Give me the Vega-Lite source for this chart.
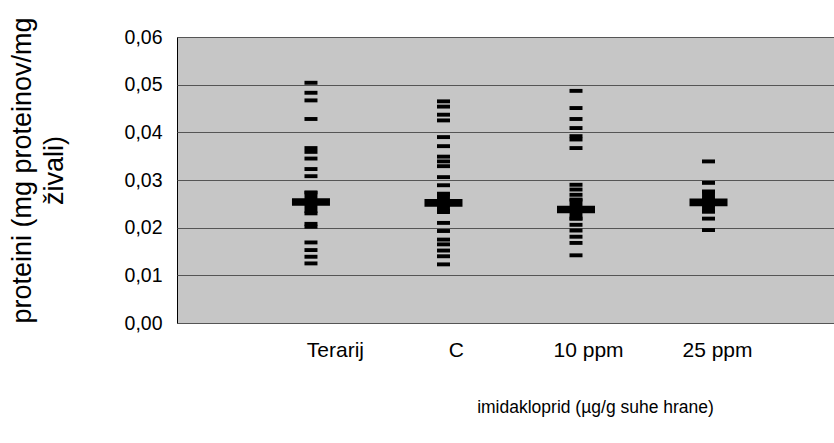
{
  "$schema": "https://vega.github.io/schema/vega-lite/v6.json",
  "width": 657,
  "height": 286,
  "autosize": {"type": "none"},
  "padding": {"left": 177, "top": 37, "right": 0, "bottom": 120},
  "background": "white",
  "config": {
    "font": "Liberation Sans",
    "view": {"fill": "#c6c6c6", "stroke": "#000000", "strokeWidth": 1}
  },
  "data": {
    "values": [
      {"group": "Terarij", "idx": 1, "kind": "point", "v": 0.0504},
      {"group": "Terarij", "idx": 1, "kind": "point", "v": 0.0483},
      {"group": "Terarij", "idx": 1, "kind": "point", "v": 0.0467},
      {"group": "Terarij", "idx": 1, "kind": "point", "v": 0.0428},
      {"group": "Terarij", "idx": 1, "kind": "point", "v": 0.0367},
      {"group": "Terarij", "idx": 1, "kind": "point", "v": 0.0359},
      {"group": "Terarij", "idx": 1, "kind": "point", "v": 0.0345},
      {"group": "Terarij", "idx": 1, "kind": "point", "v": 0.0323},
      {"group": "Terarij", "idx": 1, "kind": "point", "v": 0.0308},
      {"group": "Terarij", "idx": 1, "kind": "point", "v": 0.0274},
      {"group": "Terarij", "idx": 1, "kind": "point", "v": 0.0230},
      {"group": "Terarij", "idx": 1, "kind": "point", "v": 0.0208},
      {"group": "Terarij", "idx": 1, "kind": "point", "v": 0.0202},
      {"group": "Terarij", "idx": 1, "kind": "point", "v": 0.0169},
      {"group": "Terarij", "idx": 1, "kind": "point", "v": 0.0153},
      {"group": "Terarij", "idx": 1, "kind": "point", "v": 0.0139},
      {"group": "Terarij", "idx": 1, "kind": "point", "v": 0.0125},
      {"group": "Terarij", "idx": 1, "kind": "mean", "v": 0.0254},

      {"group": "C", "idx": 2, "kind": "point", "v": 0.0465},
      {"group": "C", "idx": 2, "kind": "point", "v": 0.0454},
      {"group": "C", "idx": 2, "kind": "point", "v": 0.0437},
      {"group": "C", "idx": 2, "kind": "point", "v": 0.0425},
      {"group": "C", "idx": 2, "kind": "point", "v": 0.0390},
      {"group": "C", "idx": 2, "kind": "point", "v": 0.0371},
      {"group": "C", "idx": 2, "kind": "point", "v": 0.0349},
      {"group": "C", "idx": 2, "kind": "point", "v": 0.0339},
      {"group": "C", "idx": 2, "kind": "point", "v": 0.0329},
      {"group": "C", "idx": 2, "kind": "point", "v": 0.0306},
      {"group": "C", "idx": 2, "kind": "point", "v": 0.0289},
      {"group": "C", "idx": 2, "kind": "point", "v": 0.0270},
      {"group": "C", "idx": 2, "kind": "point", "v": 0.0235},
      {"group": "C", "idx": 2, "kind": "point", "v": 0.0210},
      {"group": "C", "idx": 2, "kind": "point", "v": 0.0193},
      {"group": "C", "idx": 2, "kind": "point", "v": 0.0175},
      {"group": "C", "idx": 2, "kind": "point", "v": 0.0165},
      {"group": "C", "idx": 2, "kind": "point", "v": 0.0152},
      {"group": "C", "idx": 2, "kind": "point", "v": 0.0140},
      {"group": "C", "idx": 2, "kind": "point", "v": 0.0123},
      {"group": "C", "idx": 2, "kind": "mean", "v": 0.0252},

      {"group": "10 ppm", "idx": 3, "kind": "point", "v": 0.0487},
      {"group": "10 ppm", "idx": 3, "kind": "point", "v": 0.0451},
      {"group": "10 ppm", "idx": 3, "kind": "point", "v": 0.0428},
      {"group": "10 ppm", "idx": 3, "kind": "point", "v": 0.0409},
      {"group": "10 ppm", "idx": 3, "kind": "point", "v": 0.0392},
      {"group": "10 ppm", "idx": 3, "kind": "point", "v": 0.0385},
      {"group": "10 ppm", "idx": 3, "kind": "point", "v": 0.0367},
      {"group": "10 ppm", "idx": 3, "kind": "point", "v": 0.0290},
      {"group": "10 ppm", "idx": 3, "kind": "point", "v": 0.0280},
      {"group": "10 ppm", "idx": 3, "kind": "point", "v": 0.0269},
      {"group": "10 ppm", "idx": 3, "kind": "point", "v": 0.0259},
      {"group": "10 ppm", "idx": 3, "kind": "point", "v": 0.0219},
      {"group": "10 ppm", "idx": 3, "kind": "point", "v": 0.0206},
      {"group": "10 ppm", "idx": 3, "kind": "point", "v": 0.0194},
      {"group": "10 ppm", "idx": 3, "kind": "point", "v": 0.0181},
      {"group": "10 ppm", "idx": 3, "kind": "point", "v": 0.0168},
      {"group": "10 ppm", "idx": 3, "kind": "point", "v": 0.0142},
      {"group": "10 ppm", "idx": 3, "kind": "mean", "v": 0.0238},

      {"group": "25 ppm", "idx": 4, "kind": "point", "v": 0.0339},
      {"group": "25 ppm", "idx": 4, "kind": "point", "v": 0.0294},
      {"group": "25 ppm", "idx": 4, "kind": "point", "v": 0.0276},
      {"group": "25 ppm", "idx": 4, "kind": "point", "v": 0.0234},
      {"group": "25 ppm", "idx": 4, "kind": "point", "v": 0.0219},
      {"group": "25 ppm", "idx": 4, "kind": "point", "v": 0.0195},
      {"group": "25 ppm", "idx": 4, "kind": "mean", "v": 0.0253}
    ]
  },
  "encoding": {
    "x": {
      "field": "idx",
      "type": "quantitative",
      "scale": {"domain": [-0.011, 4.947], "nice": false, "zero": false},
      "axis": {
        "values": [1.181, 2.094, 3.091, 4.064],
        "labelExpr": "datum.value < 1.5 ? 'Terarij' : datum.value < 2.5 ? 'C' : datum.value < 3.5 ? '10 ppm' : '25 ppm'",
        "grid": false,
        "ticks": false,
        "domain": false,
        "labelFlush": false,
        "labelOverlap": false,
        "labelBound": false,
        "labelPadding": 16,
        "labelFontSize": 21,
        "labelColor": "#000000",
        "labelBaseline": "top",
        "title": "imidakloprid (µg/g suhe hrane)",
        "titleFontSize": 17.5,
        "titleFontWeight": "normal",
        "titleColor": "#000000",
        "titleX": 418,
        "titleY": 75,
        "titleAlign": "center",
        "titleBaseline": "top"
      }
    },
    "y": {
      "field": "v",
      "type": "quantitative",
      "scale": {"domain": [0, 0.06], "nice": false},
      "axis": {
        "values": [0, 0.01, 0.02, 0.03, 0.04, 0.05, 0.06],
        "labelExpr": "replace(format(datum.value, '.2f'), '.', ',')",
        "grid": true,
        "gridColor": "#555555",
        "gridWidth": 1,
        "ticks": false,
        "domain": false,
        "labelFlush": false,
        "labelPadding": 15,
        "labelFontSize": 19.5,
        "labelColor": "#000000",
        "title": ["proteini (mg proteinov/mg", "živali)"],
        "titleFontSize": 27,
        "titleFontWeight": "normal",
        "titleColor": "#000000",
        "titleLineHeight": 32,
        "titleAngle": -90,
        "titleAlign": "center",
        "titleBaseline": "top",
        "titleX": -168,
        "titleY": 133
      }
    }
  },
  "layer": [
    {
      "transform": [{"filter": "datum.kind == 'point'"}],
      "mark": {
        "type": "point",
        "shape": "M-1,-0.3H1V0.3H-1Z",
        "size": 169,
        "filled": true,
        "color": "#000000",
        "opacity": 1,
        "strokeWidth": 0
      }
    },
    {
      "transform": [{"filter": "datum.kind == 'mean'"}],
      "mark": {
        "type": "point",
        "shape": "M-1,-0.2H-0.34V-0.58H0.34V-0.2H1V0.2H0.34V0.58H-0.34V0.2H-1Z",
        "size": 1444,
        "filled": true,
        "color": "#000000",
        "opacity": 1,
        "strokeWidth": 0
      }
    }
  ]
}
